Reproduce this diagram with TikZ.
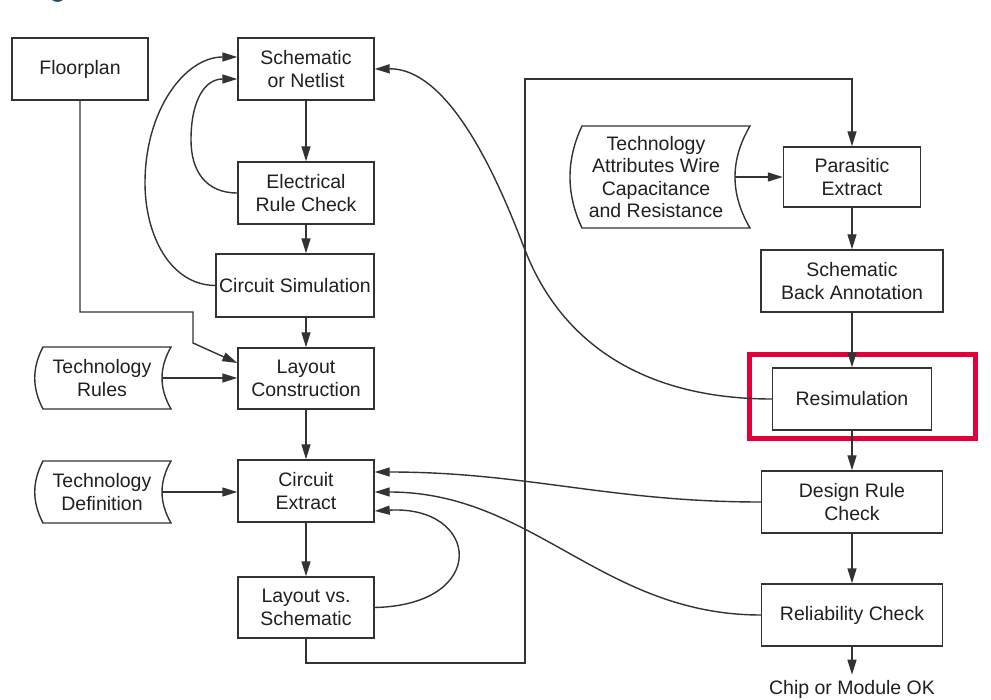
\documentclass[tikz,border=0pt]{standalone}
\usepackage{fontspec}
\setmainfont{Liberation Sans}
\usetikzlibrary{arrows.meta}
\definecolor{ink}{HTML}{231F20}
\definecolor{edge}{HTML}{333333}
\definecolor{hilite}{HTML}{E2003B}
\definecolor{headblue}{HTML}{1F4E79}
\begin{document}
\begin{tikzpicture}[x=1pt,y=-1pt,
  every node/.style={text=ink, font=\fontsize{19.5}{22.5}\selectfont},
  box/.style={draw=edge, line width=1.4pt, align=center, inner sep=0pt},
  tape/.style={draw=edge, line width=1.4pt},
  lbl/.style={align=center, inner sep=0pt},
  arr/.style={draw=edge, line width=1.4pt, -{Triangle[length=15pt,width=9pt]}},
  wire/.style={draw=edge, line width=1.4pt}]
\fill[white] (0,0) rectangle (991,700);
\useasboundingbox (0,0) rectangle (991,700);

% cut-off heading glyph
\fill[headblue] (52,0) .. controls (55,2.5) and (60,2.5) .. (63,0) -- cycle;

% left column
\node[box, minimum width=136pt, minimum height=62pt] (FP)  at (80,69)    {Floorplan};
\node[box, minimum width=136pt, minimum height=62pt] (SN)  at (306,69)   {Schematic\\or Netlist};
\node[box, minimum width=136pt, minimum height=62pt] (ERC) at (306,193)  {Electrical\\Rule Check};
\node[box, minimum width=158pt, minimum height=63pt] (CS)  at (295,285.5){Circuit Simulation};
\node[box, minimum width=136pt, minimum height=61pt] (LC)  at (306,378.5){Layout\\Construction};
\node[box, minimum width=136pt, minimum height=62pt] (CE)  at (306,491)  {Circuit\\Extract};
\node[box, minimum width=136pt, minimum height=61pt] (LVS) at (306,607.5){Layout vs.\\Schematic};

% right column
\node[box, minimum width=137pt, minimum height=60pt] (PE)  at (852,177)  {Parasitic\\Extract};
\node[box, minimum width=182pt, minimum height=62pt] (SBA) at (852,281)  {Schematic\\Back Annotation};
\node[box, minimum width=159pt, minimum height=62pt] (RS)  at (852,399)  {Resimulation};
\node[box, minimum width=181pt, minimum height=62pt] (DRC) at (852,502)  {Design Rule\\Check};
\node[box, minimum width=181pt, minimum height=62pt] (REL) at (852,615)  {Reliability Check};
\node[lbl, anchor=base] (OK) at (852,694) {Chip or Module OK};

% tape-shaped data inputs
\draw[tape] (43,347) -- (171,347) .. controls (159,368) and (159,388) .. (171,409)
  -- (43,409) .. controls (32,388) and (32,368) .. (43,347) -- cycle;
\node[lbl] (TR) at (102,378) {Technology\\Rules};
\coordinate (TRo) at (162,378);

\draw[tape] (43,461) -- (171,461) .. controls (159,482) and (159,502) .. (171,523)
  -- (43,523) .. controls (32,502) and (32,482) .. (43,461) -- cycle;
\node[lbl] (TD) at (102,492) {Technology\\Definition};
\coordinate (TDo) at (162,492);

\draw[tape] (582,126) -- (750,126) .. controls (730,160) and (730,194) .. (750,228)
  -- (582,228) .. controls (566,194) and (566,160) .. (582,126) -- cycle;
\node[lbl] (TA) at (656,177) {Technology\\Attributes Wire\\Capacitance\\and Resistance};
\coordinate (TAo) at (735,177);

% highlight frame
\draw[hilite, line width=5pt] (749.5,354.5) rectangle (975.5,438.5);

% main flow
\draw[arr] (SN) -- (ERC);
\draw[arr] (ERC.south) -- (ERC.south |- CS.north);
\draw[arr] (LC.north |- CS.south) -- (LC.north);
\draw[arr] (LC) -- (CE);
\draw[arr] (CE) -- (LVS);
\draw[arr] (PE) -- (SBA);
\draw[arr] (SBA) -- (RS);
\draw[arr] (RS) -- (DRC);
\draw[arr] (DRC) -- (REL);
\draw[arr] (REL.south) -- ([yshift=5pt]OK.north);

% inputs
\draw[arr] (TRo) -- (TRo -| LC.west);
\draw[arr] (TDo) -- (TDo -| CE.west);
\draw[arr] (TAo) -- (TAo -| PE.west);
\draw[arr] (FP.south) |- (193,312) -- (193,343) -- ([yshift=15.5pt]LC.west);

% LVS result routed to parasitic extraction
\draw[arr] (LVS.south) |- (525,663) -- (525,79) -| (PE.north);

% feedback loops into the schematic
\draw[arr] (CS.west) .. controls (170,285) and (145,235) .. (145,183)
  .. controls (145,110) and (185,57) .. ([yshift=12pt]SN.west);
\draw[arr] (ERC.west) .. controls (205,193) and (191,170) .. (191,140)
  .. controls (191,100) and (205,79) .. ([yshift=-10pt]SN.west);
\draw[arr] (RS.west) .. controls (640,399) and (560,340) .. (525,250)
  .. controls (506,201) and (455,68) .. (SN.east);

% feedback loops into circuit extraction
\draw[arr] (DRC.west) to[out=180,in=0] ([yshift=19pt]CE.east);
\draw[arr] (REL.west) to[out=180,in=0] ([yshift=-1pt]CE.east);
\draw[arr] (LVS.east) .. controls (490,605) and (480,505) .. ([yshift=-20pt]CE.east);
\end{tikzpicture}
\end{document}
